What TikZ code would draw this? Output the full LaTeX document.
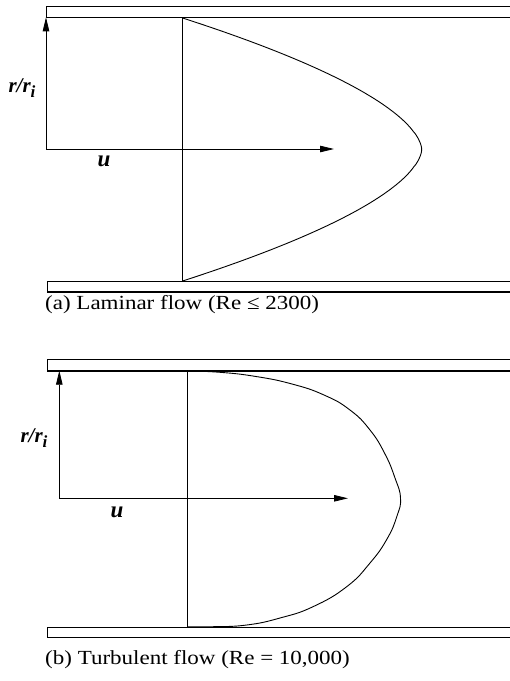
\documentclass[tikz,border=0pt]{standalone}
\usepackage{fontspec}
\setmainfont{Liberation Serif}
\usetikzlibrary{arrows.meta}
\begin{document}
\begin{tikzpicture}[x=1pt,y=-1pt,
  wallthick/.style={line width=1.6pt},
  wallthin/.style={line width=0.8pt},
  axisarrow/.style={-{Triangle[length=14pt,width=6.5pt]}, line width=0.8pt},
  profile/.style={line width=0.9pt},
  baseline/.style={line width=0.8pt},
  lab/.style={font=\fontsize{21}{21}\selectfont\bfseries\itshape, inner sep=0pt},
  captext/.style={font=\fontsize{20}{20}\selectfont, anchor=west, inner sep=0pt}]
\useasboundingbox (0,0) rectangle (510,681);

% ---------- panel (a) ----------
% walls
\draw[wallthick] (46,6.5) -- (511,6.5);
\draw[wallthin] (511,17.3) -- (46,17.3) -- (46,6.5);
\draw[wallthin] (511,281.7) -- (47,281.7) -- (47,292);
\draw[wallthick] (47,292) -- (511,292);
% axes
\coordinate (oa) at (46,149);
\coordinate (ya) at (46,17.3);
\coordinate (xa) at (334,149);
\draw[axisarrow] (oa) -- (ya);
\draw[axisarrow] (oa) -- (xa);
% base line
\coordinate (ta) at (182.3,17.3);
\coordinate (ba) at (182.3,280.7);
\draw[baseline] (ta) -- (ba);
% laminar profile
\draw[profile] plot[domain=-1:1, samples=200, smooth]
  ({182.3+239.4*(1-pow(abs(\x),1.7))}, {149.5-131.6*\x});
% labels
\node[lab] (ra) at (22,88) {r/r\raisebox{-0.45ex}{\fontsize{17}{17}\selectfont i}};
\node[lab, font=\fontsize{23}{23}\selectfont\bfseries\itshape] (ua) at (104,161) {u};
\node[captext] (capa) at (45,305) {\scalebox{1.15}[1]{(a) Laminar flow (Re ≤ 2300)}};

% ---------- panel (b) ----------
\draw[wallthin] (511,359) -- (47,359) -- (47,370.7);
\draw[wallthick] (47,370.7) -- (511,370.7);
\draw[wallthin] (511,627) -- (47,627) -- (47,637.7) -- (511,637.7);
% axes
\coordinate (ob) at (59.3,498.3);
\coordinate (yb) at (59.3,370.7);
\coordinate (xb) at (348,498.3);
\draw[axisarrow] (ob) -- (yb);
\draw[axisarrow] (ob) -- (xb);
% base line
\coordinate (tb) at (187.3,371);
\coordinate (bb) at (187.3,626.7);
\draw[baseline] (tb) -- (bb);
% turbulent profile
\draw[profile] plot[smooth, tension=0.8] coordinates {
 (187.3,371) (220,372.3) (256,376.5) (292,384) (324,395)
 (350,410) (370,430) (385,454) (395,478) (400.5,498) (397,516)
 (387,539) (370,563) (346.7,586.7) (313,606.7) (280,618) (246.7,625)
 (213,626.7) (187.3,626.7)};
% labels
\node[lab] (rb) at (34,438) {r/r\raisebox{-0.45ex}{\fontsize{17}{17}\selectfont i}};
\node[lab, font=\fontsize{23}{23}\selectfont\bfseries\itshape] (ub) at (117,512) {u};
\node[captext] (capb) at (45,660) {\scalebox{1.15}[1]{(b) Turbulent flow (Re = 10,000)}};
\end{tikzpicture}
\end{document}
